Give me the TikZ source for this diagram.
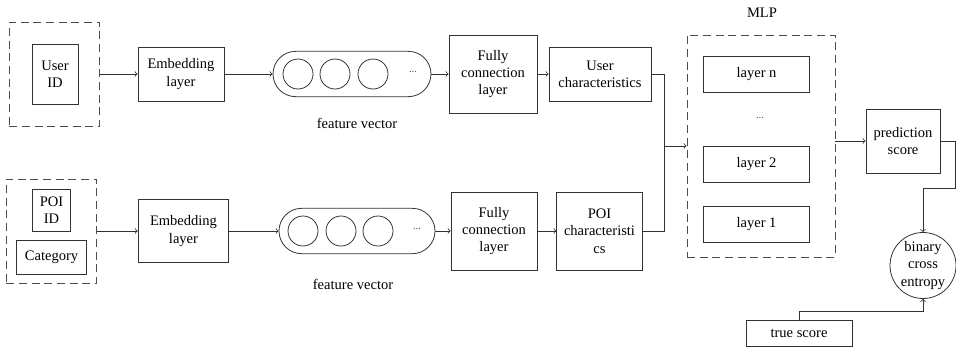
\documentclass[tikz,border=0pt]{standalone}
\usepackage{fontspec}
\setmainfont{Liberation Serif}
\usepackage{tikz}

\begin{document}
\begin{tikzpicture}[x=0.75pt,y=-0.75pt,line width=0.6pt,draw=black!80,font=\fontsize{10.9}{13}\selectfont,
	box/.style={draw,rectangle,inner sep=0pt,align=center},
	dashbox/.style={draw=black!70,dash pattern=on 6pt off 3.5pt,rectangle,inner sep=0pt},
	pill/.style={draw,rectangle,rounded corners=17pt,inner sep=0pt,minimum width=117pt,minimum height=34pt},
	unit/.style={draw,circle,inner sep=0pt,minimum size=22.5pt},
	dots/.style={text=black!70,font=\fontsize{8}{9}\selectfont}]
	\useasboundingbox (0,0) rectangle (956,357);
	%user branch
	\node[dashbox,minimum width=68pt,minimum height=78pt] (udash) at (54.5,74) {};
	\node[box,minimum width=34.5pt,minimum height=45pt] (uid) at (55,74) {User\\ID};
	\node[box,minimum width=64.5pt,minimum height=40.5pt] (emb1) at (181,74) {Embedding\\layer};
	\node[pill,minimum width=118.5pt] (fv1) at (352,74) {};
	\foreach \x/\n in {298/a,335/b,373/c} \node[unit] (u1\n) at (\x,74) {};
	\node[dots] (d1) at (413,72) {...};
	\node (fv1l) at (357,123) {feature vector};
	\node[box,minimum width=66pt,minimum height=58.5pt] (fcl1) at (493,74) {Fully\\connection\\layer};
	\node[box,minimum width=76.5pt,minimum height=40.5pt] (uchar) at (600,74) {User\\characteristics};
	%poi branch
	\node[dashbox,minimum width=68pt,minimum height=78pt] (pdash) at (51.5,231) {};
	\node[box,minimum width=29pt,minimum height=31.5pt] (pid) at (51.5,210) {POI\\ID};
	\node[box,minimum width=53pt,minimum height=25pt] (cat) at (51.5,257.5) {Category};
	\node[box,minimum width=68pt,minimum height=47pt] (emb2) at (183.5,231) {Embedding\\layer};
	\node[pill] (fv2) at (357,231) {};
	\foreach \x/\n in {303/a,341/b,378/c} \node[unit] (u2\n) at (\x,231) {};
	\node[dots] (d2) at (417,229) {...};
	\node (fv2l) at (353,284) {feature vector};
	\node[box,minimum width=64.5pt,minimum height=58.5pt] (fcl2) at (494,231) {Fully\\connection\\layer};
	\node[box,minimum width=64pt,minimum height=58.5pt] (pchar) at (599.5,231) {POI\\characteristi\\cs};
	%mlp
	\node[dashbox,minimum width=111pt,minimum height=166.5pt] (mlp) at (761,146) {};
	\node (mlpl) at (762,13) {MLP};
	\node[box,minimum width=79pt,minimum height=27pt] (ln) at (756.5,74) {layer n};
	\node[dots] (ld) at (760,118) {...};
	\node[box,minimum width=79pt,minimum height=27pt] (l2) at (756.5,164) {layer 2};
	\node[box,minimum width=79pt,minimum height=27pt] (l1) at (756.5,224.5) {layer 1};
	\node[box,minimum width=55.5pt,minimum height=48pt] (pred) at (903,141) {prediction\\score};
	\node[box,circle,minimum size=49.5pt] (bce) at (923,265.5) {binary\\cross\\entropy};
	\node[box,minimum width=79.5pt,minimum height=20pt] (true) at (799,333.5) {true score};
	%connectors
	\draw[->] (udash) -- (emb1);
	\draw[->] (emb1) -- (fv1);
	\draw[->] (fv1) -- (fcl1);
	\draw[->] (fcl1) -- (uchar);
	\draw[->] (pdash) -- (emb2);
	\draw[->] (emb2) -- (fv2);
	\draw[->] (fv2) -- (fcl2);
	\draw[->] (fcl2) -- (pchar);
	\coordinate (join) at (664,146);
	\draw (uchar.east) -| (join);
	\draw (pchar.east) -| (join);
	\draw[->] (join) -- (mlp.west);
	\draw[->] (mlp.east |- pred.west) -- (pred.west);
	\draw[->] (pred.east) -| ++(15,47) -| (bce.north);
	\draw[->] (true.north) -- ++(0,-8) -| (bce.south);
\end{tikzpicture}
\end{document}
